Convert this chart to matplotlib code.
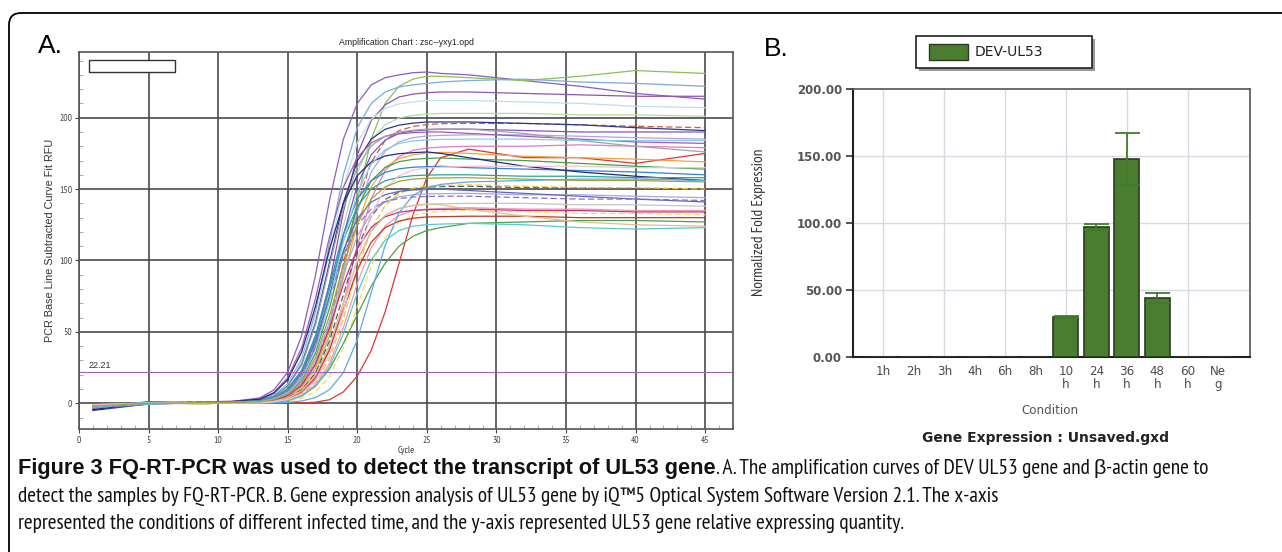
import os
import matplotlib
matplotlib.use("Agg")
import matplotlib.pyplot as plt
from matplotlib import font_manager
from matplotlib.font_manager import FontProperties
from matplotlib.patches import Rectangle, FancyBboxPatch
from matplotlib.transforms import IdentityTransform
from matplotlib.ticker import MultipleLocator
import numpy as np

W, H = 1282, 552

# ---------------- Panel A: amplification curves (RFU) ----------------
cycles = [1, 5, 9, 11, 13, 14, 15, 16, 17, 18, 19, 20, 21, 22, 23, 24, 25, 26, 28, 32, 36, 40, 45]
rfu = [
    [-3, 0.5, 0, 1.2, 3.8, 9.3, 21.8, 47.3, 89.8, 142, 185, 210, 223, 228, 230, 231.5, 232, 231, 230, 226, 222, 217, 213],
    [-2, -0.5, 0.8, 0.5, 0.6, 1.5, 3.8, 9.3, 21.8, 47, 90, 142, 185, 210, 222, 227, 229, 229, 228, 226, 229, 233, 231],
    [-4, 0.5, -0.5, 1, 2.4, 5.7, 13.7, 31, 64, 112, 160, 193, 210, 218, 221.5, 223, 224, 225, 226, 227, 225, 224, 222],
    [-2.5, 1, 0, 0.5, 1.4, 3.6, 8.7, 20.5, 44.5, 84, 134, 174, 198, 209, 214.5, 216.5, 217.5, 218, 218, 217, 216, 215, 215],
    [-3, 0, 1, 0.8, 2.2, 5.4, 12.9, 29.5, 60.8, 106, 151, 182.5, 199, 206.5, 209.7, 211, 212, 212, 212, 211, 210, 208, 207],
    [-1.5, 0.5, -0.5, 1, 1.3, 3.3, 8.1, 19.1, 41.4, 78.6, 124.4, 161.6, 184, 195, 199.8, 201.6, 202.5, 203, 203, 203, 202, 202, 201],
    [-2, 0, 0.5, 0.3, 0.8, 2.1, 5, 12, 27.2, 56.3, 98, 139.7, 168.8, 184, 191, 193.8, 195.2, 195.8, 196, 196, 195, 194, 193],
    [-5, -0.5, 0.5, 1, 2.1, 5, 12, 27.4, 56.5, 98.5, 140.5, 169.6, 185, 191.9, 194.8, 196.2, 197, 197, 197, 196, 195, 193, 191],
    [-2, 0.5, 0, 0.6, 1.3, 3.2, 7.7, 18, 39.2, 74.3, 117.7, 152.8, 174, 184.3, 189, 190.7, 191.5, 192, 192, 191, 190, 190, 190],
    [-1, 0, 0.5, 0.4, 0.8, 2, 4.8, 11.5, 26.1, 54, 94, 134, 161.9, 176.5, 183.1, 186, 187.2, 187.6, 188, 188, 187, 186, 185],
    [-3, 0.5, 1, 1.5, 3.1, 7.6, 17.9, 38.8, 73.5, 116.5, 151.2, 172.1, 182.4, 187, 188.7, 189.5, 190, 190, 189, 187, 185, 183, 182],
    [-2, -0.5, 0.5, 0, 0.5, 1.2, 3, 7.2, 16.9, 36.7, 69.7, 110.3, 143.3, 163, 172.8, 177.1, 178.7, 179.4, 180, 180, 181, 180, 179],
    [-2.5, 0.5, 0, 1, 2, 4.9, 11.7, 26.7, 55.1, 96, 137, 165.3, 180.3, 187, 190, 191.2, 192, 192, 192, 189, 184, 180, 176],
    [-1, 0, 0, 0, 0, 0, 0, 0.3, 0.8, 2.5, 8, 19, 37, 64, 98, 132, 158, 172, 178, 172, 172, 168, 175],
    [-2, 0.5, 1, 0.5, 0.8, 1.8, 4.5, 10.7, 24.5, 50.5, 88, 125.5, 151.5, 165.3, 171.4, 174, 175.3, 175.7, 175, 173, 172, 171, 169],
    [-3, 0, 0.5, 1, 1.1, 2.8, 6.9, 16.2, 35.1, 66.6, 105.4, 136.9, 155.8, 165.1, 169.2, 170.8, 171.5, 171.8, 171, 170, 168, 166, 164],
    [-4, -0.5, 0.5, 0.8, 1.7, 4.2, 10.1, 23.1, 47.6, 83, 118.4, 142.9, 155.9, 161.7, 164.2, 165.3, 165.7, 166, 165, 164, 163, 162, 160],
    [-4.5, 0.5, 0, 1.2, 2.9, 7, 16.5, 35.9, 68.1, 107.9, 140.1, 159.5, 169, 173.2, 174.8, 175.5, 176, 175, 172, 166, 162, 159, 156],
    [-1.5, 0, 1, 0.5, 0.7, 1.6, 3.9, 9.3, 21.1, 43.6, 76, 108.4, 130.9, 142.7, 148, 150.3, 151.4, 151.7, 152, 151, 151, 150, 150],
    [-2, 0.5, -0.5, 0.3, 0.4, 1, 2.5, 6.1, 14.4, 31.2, 59.2, 93.8, 121.8, 138.6, 146.9, 150.6, 151.9, 152.4, 153, 152, 151, 151, 150],
    [-3, 0, 0.5, 1, 1, 2.4, 5.9, 13.8, 30, 56.9, 90.1, 117, 133.2, 141.1, 144.6, 146, 146.6, 146.8, 147, 146, 146, 145, 144],
    [-2.5, 1, 0, 0.7, 1.6, 3.8, 9.2, 20.9, 43.1, 75, 107, 129.2, 140.9, 146.1, 148.4, 149.4, 149.7, 150, 149, 147, 145, 143, 141],
    [-1, 0, 0.5, 0.5, 0.6, 1.5, 3.6, 8.5, 19.5, 40.2, 70, 99.8, 120.5, 131.5, 136.4, 138.5, 139.4, 139.7, 140, 140, 139, 139, 138],
    [-2, -0.5, 0, 0.4, 0.4, 0.9, 2.3, 5.5, 12.9, 27.9, 53, 84, 109, 124.1, 131.5, 134.8, 136, 136.5, 137, 136, 136, 135, 135],
    [-3, 0.5, 0.5, 0.8, 0.9, 2.2, 5.4, 12.8, 27.7, 52.6, 83.4, 108.3, 123.2, 130.6, 133.8, 135.1, 135.6, 135.8, 136, 135, 135, 134, 134],
    [-1.5, 0, 0.5, 0, 0.2, 0.6, 1.4, 3.5, 8.2, 18.8, 38.7, 67.5, 96.3, 116.2, 126.8, 131.5, 133.5, 134.5, 135, 134, 133, 133, 132],
    [-2, 0.5, 0, 0.5, 0.6, 1.4, 3.4, 8, 18.2, 37.6, 65.5, 93.4, 112.8, 123, 127.6, 129.6, 130.5, 130.7, 131, 131, 130, 130, 130],
    [-2.5, 0, 0.5, 0.2, 0.3, 0.8, 2, 5, 12, 24, 42, 62, 82, 98, 110, 117, 121, 123, 126, 127, 128, 128, 127],
    [-3, -0.5, 0.5, 0.3, 0.3, 0.8, 2.1, 5, 11.8, 25.7, 48.8, 77.2, 100.3, 114.2, 121, 124, 125.1, 125.5, 126, 125, 123, 122, 123],
    [-2, 0, 0.5, 0, 0.1, 0.3, 0.7, 1.6, 4, 9.5, 21.5, 44.5, 77.5, 110.5, 133.5, 145.5, 151, 153.3, 155, 156, 157, 157, 156],
    [-1.5, 0.5, 0, 0.5, 0.6, 1.5, 3.6, 8.5, 19.5, 40.2, 70, 99.8, 120.5, 131.5, 136.4, 138.5, 139.4, 139, 136, 131, 127, 125, 124],
    [-3.5, 0, 1, 0.8, 1.5, 3.7, 8.8, 20.2, 41.6, 72.5, 103.4, 124.8, 136.2, 141.2, 143.4, 144.4, 144.8, 145, 145, 144, 143, 143, 142],
    [-2, 0.5, 0, 1, 1.7, 4.1, 9.8, 22.2, 45.9, 80, 114.1, 137.8, 150.2, 155.8, 158.2, 159.4, 159.8, 160, 160, 159, 159, 158, 158],
    [-1, 0, 0.5, 0.2, 0.4, 1.1, 2.7, 6.6, 15.6, 33.9, 64.2, 101.8, 132.1, 150.4, 159.4, 163.3, 164.8, 165.3, 166, 166, 166, 165, 165],
    [-2.5, 0.5, 0, 0.6, 1.2, 3.1, 7.4, 17.4, 37.7, 71.6, 113.4, 147.3, 167.6, 177.6, 182, 183.7, 184.5, 184.8, 185, 185, 184, 184, 184],
    [-2, 0, 0.5, 0.5, 1, 2.6, 6.3, 14.9, 32.2, 61.1, 96.9, 125.8, 143.1, 151.5, 155.5, 157, 157.6, 157.8, 158, 157, 156, 156, 155],
]
curve_colors = ["#8a5cc2", "#86c15a", "#7aa9dc", "#8e55b0", "#b9e0ef", "#b7dca3", "#c8603a", "#2e3592",
                "#7d56c0", "#b4a2dc", "#a857b8", "#e27ac0", "#a3a3a3", "#e0352f", "#f6a23c", "#45a046",
                "#2a86d8", "#1f2a80", "#5c5c5c", "#f3c22b", "#a3abdc", "#5b68c0", "#c4c4c4", "#f197b6",
                "#c4307c", "#ffd957", "#c0392b", "#4e9f4e", "#56c8d8", "#5aa9ea", "#e4bb90", "#8f6cc4",
                "#2aa598", "#f6bfd2", "#8cc9ee", "#a3a23a"]
dashed_curves = [6, 18, 19, 25, 31]
threshold = 22.21

# ---------------- Panel B: normalized fold expression ----------------
conditions = ["1h", "2h", "3h", "4h", "6h", "8h", "10h", "24h", "36h", "48h", "60h", "Neg"]
cond_labels = ["1h", "2h", "3h", "4h", "6h", "8h", "10\nh", "24\nh", "36\nh", "48\nh", "60\nh", "Ne\ng"]
fold_expr = [0, 0, 0, 0, 0, 0, 30, 97, 148, 44, 0.3, 0]
fold_err = [0, 0, 0, 0, 0, 0, 0.6, 2.5, 19.5, 3.5, 0, 0]
series_name = "DEV-UL53"

caption_bold = "Figure 3 FQ-RT-PCR was used to detect the transcript of UL53 gene"
caption_rest = [". A. The amplification curves of DEV UL53 gene and \u03b2-actin gene to",
                "detect the samples by FQ-RT-PCR. B. Gene expression analysis of UL53 gene by iQ\u21225 Optical System Software Version 2.1. The x-axis",
                "represented the conditions of different infected time, and the y-axis represented UL53 gene relative expressing quantity."]

ARIAL = "Liberation Sans"


def narrow_font(bold=False):
    # look for any installed narrow/condensed sans face
    for key in ["sansnarrow", "sans-narrow", "sanscondensed", "condensed"]:
        for f in font_manager.fontManager.ttflist:
            base = os.path.basename(f.fname).lower().replace("_", "")
            if key not in base or "mono" in base or "serif" in base:
                continue
            if "oblique" in base or "italic" in base:
                continue
            if ("bold" in base) != bold:
                continue
            return FontProperties(fname=f.fname)
    fp = FontProperties(family=ARIAL)
    if bold:
        fp.set_weight("bold")
    return fp


NARROW = narrow_font()
BOLD = FontProperties(family=ARIAL, weight="bold")
GREEK = FontProperties(family=ARIAL)


def fx(x):
    return x / W


def fy(y):
    return 1 - y / H


fig = plt.figure(figsize=(W / 100, H / 100), dpi=100)

# outer rounded frame (runs off the right and bottom edges)
frame = FancyBboxPatch((9, -40), 1340, H - 13 + 40, boxstyle="round,pad=0,rounding_size=12",
                       transform=IdentityTransform(), fill=False, ec="black", lw=1.3)
fig.add_artist(frame)

# ---------------- Panel A ----------------
axA = fig.add_axes([fx(79), fy(429), (733 - 79) / W, (429 - 52) / H])
for i, (vals, col) in enumerate(zip(rfu, curve_colors)):
    ls = (0, (5, 2.5)) if i in dashed_curves else "-"
    axA.plot(cycles, vals, color=col, lw=0.9, ls=ls)
axA.axhline(threshold, color="#a35fb5", lw=0.8)
axA.text(0.7, threshold + 2.5, f"{threshold:.2f}", fontsize=6.5, color="#333", family=ARIAL)
axA.set_xlim(0, 47)
axA.set_ylim(-18, 246)
axA.set_xticks(range(0, 46, 5))
axA.set_yticks(range(0, 201, 50))
axA.xaxis.set_minor_locator(MultipleLocator(1))
axA.yaxis.set_minor_locator(MultipleLocator(10))
axA.tick_params(which="major", direction="out", length=3, width=0.8, color="#444",
                labelsize=6.3, labelcolor="#444", pad=2)
axA.tick_params(which="minor", direction="in", length=3, width=0.6, color="#999")
for lab in axA.get_xticklabels() + axA.get_yticklabels():
    lab.set_fontproperties(NARROW)
    lab.set_fontsize(6.8)
axA.grid(True, which="major", color="#4a4a4a", lw=1.2)
axA.set_axisbelow(True)
for sp in axA.spines.values():
    sp.set_color("#555")
    sp.set_linewidth(1.2)
axA.set_title("Amplification Chart : zsc--yxy1.opd", fontsize=6.3, family=ARIAL, color="#222", pad=5)
axA.set_xlabel("Cycle", fontproperties=NARROW, fontsize=6.8, color="#333", labelpad=0.5)
axA.set_ylabel("PCR Base Line Subtracted Curve Fit RFU", fontsize=7.8, family=ARIAL, color="#333", labelpad=3)
axA.add_patch(Rectangle((10 / 654, 1 - 20 / 377), 86 / 654, 12 / 377, transform=axA.transAxes,
                        fill=True, fc="white", ec="#333", lw=1.0, zorder=5))

fig.text(fx(38), fy(46), "A.", fontsize=19, family=ARIAL, va="center", ha="left")
fig.text(fx(764), fy(49), "B.", fontsize=19, family=ARIAL, va="center", ha="left")

# ---------------- Panel B ----------------
bar_col = "#4b7d30"
axB = fig.add_axes([fx(853), fy(357), (1250 - 853) / W, (357 - 89) / H])
xpos = np.arange(len(conditions))
axB.bar(xpos, fold_expr, width=0.82, color=bar_col, edgecolor="#2a3a22", lw=1.2, zorder=3)
err_idx = [i for i, e in enumerate(fold_err) if e > 0]
axB.errorbar(xpos[err_idx], [fold_expr[i] for i in err_idx], yerr=[fold_err[i] for i in err_idx],
             fmt="none", ecolor="#3f7d2b", elinewidth=1.3, capsize=9, capthick=1.3, zorder=4)
axB.set_xlim(-1, 12.05)
axB.set_ylim(0, 200)
axB.set_yticks([0, 50, 100, 150, 200])
axB.set_yticklabels([f"{v:.2f}" for v in [0, 50, 100, 150, 200]])
axB.set_xticks(xpos)
axB.set_xticklabels(cond_labels, linespacing=0.95)
for v in [50, 100, 150]:
    axB.axhline(v, color="#d9d9e2", lw=1.0, zorder=0)
for i in xpos[::2]:
    axB.axvline(i, color="#d9d9e2", lw=1.0, zorder=0)
axB.tick_params(axis="y", direction="out", length=5, width=1.2, color="#333", labelsize=8.5,
                labelcolor="#555", pad=3)
axB.tick_params(axis="x", length=0, labelsize=8.6, labelcolor="#4a4a4a", pad=6)
for lab in axB.get_yticklabels():
    lab.set_fontweight("bold")
    lab.set_family("DejaVu Sans")
for lab in axB.get_xticklabels():
    lab.set_family("DejaVu Sans")
for side in ["left", "bottom"]:
    axB.spines[side].set_color("#222")
    axB.spines[side].set_linewidth(1.5)
for side in ["top", "right"]:
    axB.spines[side].set_color("#555")
    axB.spines[side].set_linewidth(1.2)
axB.set_ylabel("Normalized Fold Expression", fontproperties=NARROW, fontsize=11, color="#333")
axB.yaxis.set_label_coords((766 - 853) / (1250 - 853), (357 - 222) / (357 - 89))
fig.text(fx(1050), fy(411), "Condition", fontsize=8.6, family="DejaVu Sans", color="#555",
         ha="center", va="center")
fig.text(fx(1046), fy(438), "Gene Expression : Unsaved.gxd", fontsize=10, family="DejaVu Sans",
         fontweight="bold", color="#222", ha="center", va="center")

# legend box with shadow
fig.add_artist(Rectangle((fx(919), fy(71)), 176 / W, 32 / H, transform=fig.transFigure,
                         fc="#9a9a9a", ec="none"))
fig.add_artist(Rectangle((fx(916), fy(68)), 176 / W, 32 / H, transform=fig.transFigure,
                         fc="white", ec="#222", lw=1.2))
fig.add_artist(Rectangle((fx(929), fy(60)), 39 / W, 16 / H, transform=fig.transFigure,
                         fc=bar_col, ec="#2a3a22", lw=1.0))
fig.text(fx(975), fy(52), series_name, fontsize=10, family="DejaVu Sans", color="#222",
         ha="left", va="center")

# ---------------- Caption (runs of text laid out side by side) ----------------
renderer = fig.canvas.get_renderer()


def split_greek(line, fp):
    runs = []
    for k, part in enumerate(line.split(" \u03b2")):
        if k > 0:
            runs.append(("\u03b2", GREEK, True))
        runs.append((part, fp, False))
    return runs


cap_lines = [[(caption_bold, BOLD, False)] + split_greek(caption_rest[0], NARROW)]
cap_lines += [split_greek(line, NARROW) for line in caption_rest[1:]]
cap_base = [474, 502, 529]

cap_texts = []
for y, runs in zip(cap_base, cap_lines):
    row = []
    for s, fp, gap in runs:
        t = fig.text(fx(18), fy(y), s, fontproperties=fp, va="baseline", ha="left", color="#111")
        row.append((t, gap))
    cap_texts.append(row)


def layout_caption(fs_reg, fs_bold):
    widths = []
    for row in cap_texts:
        x = 18
        for t, gap in row:
            t.set_fontsize(fs_bold if t.get_fontproperties().get_weight() in ("bold", 700) else fs_reg)
            if gap:
                x += fs_reg * 100 / 72 * 0.2
            t.set_x(fx(x))
            x += t.get_window_extent(renderer).width
        widths.append(x - 18)
    return widths


# regular text sized to the second line's width, bold lead-in to its own width
fs_reg, fs_bold = 15.0, 15.0
for _ in range(4):
    layout_caption(fs_reg, fs_bold)
    w_bold = cap_texts[0][0][0].get_window_extent(renderer).width
    w_line2 = layout_caption(fs_reg, fs_bold)[1]
    fs_bold *= (752 - 18) / w_bold
    fs_reg *= (1001 - 18) / w_line2
fs_bold = min(fs_bold, fs_reg * 1.02)
layout_caption(fs_reg, fs_bold)

fig.savefig("out.png", dpi=100)
